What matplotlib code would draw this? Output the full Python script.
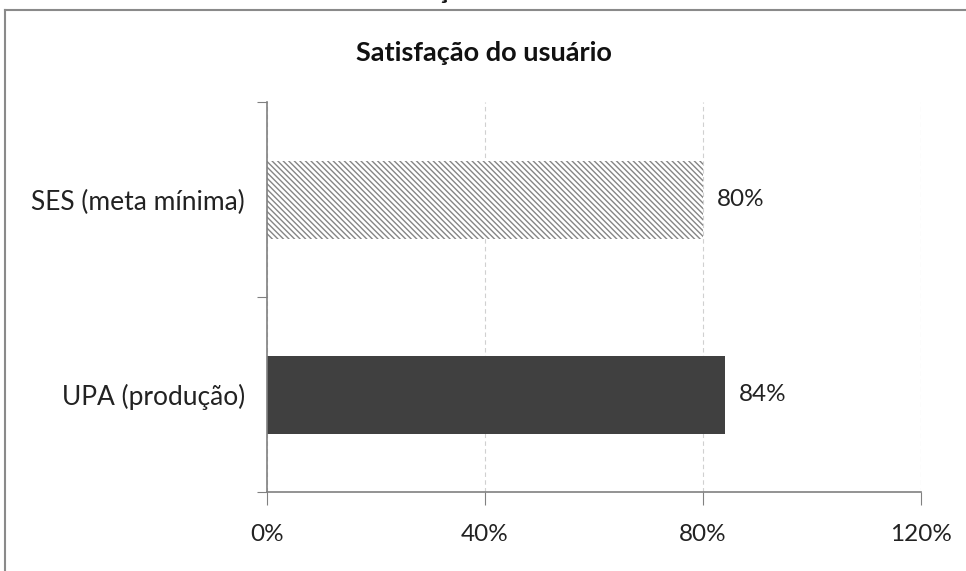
import matplotlib
matplotlib.use('Agg')
import matplotlib.pyplot as plt
from matplotlib.lines import Line2D

categories = ['UPA (produção)', 'SES (meta mínima)']
values = [84, 80]
value_labels = ['84%', '80%']
x_ticks = [0, 40, 80, 120]
x_tick_labels = ['0%', '40%', '80%', '120%']

plt.rcParams['font.family'] = ['Lato', 'DejaVu Sans']
plt.rcParams['hatch.linewidth'] = 1.0

W, H = 966, 571
fig = plt.figure(figsize=(W / 100, H / 100), dpi=100)
ax = fig.add_axes([267 / W, 1 - 492 / H, (921 - 267) / W, (492 - 102) / H])

# bars
pos = [0, 1]
ax.barh(pos[0], values[0], height=0.4, color='#404040', linewidth=0)
ax.barh(pos[1], values[1], height=0.4, color='white', edgecolor='#858585',
        hatch='\\\\\\\\\\\\', linewidth=0)

for p, v, lab in zip(pos, values, value_labels):
    ax.text(v + 2.6, p, lab, va='center', ha='left', fontsize=17.5, color='#222222')

ax.set_xlim(0, 120)
ax.set_ylim(-0.5, 1.5)
ax.set_xticks(x_ticks)
ax.set_xticklabels(x_tick_labels, fontsize=17.5, color='#222222')
ax.set_yticks([-0.5, 0.5, 1.5])
ax.set_yticklabels([])
ax.set_yticks(pos, minor=True)
ax.set_yticklabels(categories, minor=True, fontsize=19, color='#222222')
ax.tick_params(axis='y', which='minor', length=0, pad=16)
ax.tick_params(axis='y', which='major', length=7, color='#808080', direction='out')
ax.tick_params(axis='x', length=9, color='#808080', direction='out', pad=14)

for s in ['top', 'right']:
    ax.spines[s].set_visible(False)
for s in ['left', 'bottom']:
    ax.spines[s].set_color('#808080')
    ax.spines[s].set_linewidth(1.2)

ax.grid(axis='x', color='#d0d0d0', linestyle=(0, (4, 3)), linewidth=0.8)
ax.set_axisbelow(True)

fig.text(484 / W, 1 - 53 / H, 'Satisfação do usuário', ha='center', va='center',
         fontsize=19.5, fontweight='bold', color='#111111')
# cropped title of the chart above
fig.text(484 / W, 1 + 1 / H, 'Satisfação do usuário', ha='center', va='baseline',
         fontsize=19.5, fontweight='bold', color='#111111')

# outer frame
fig.add_artist(Line2D([5 / W, 1], [1 - 10 / H, 1 - 10 / H], color='#8a8a8a', linewidth=1.5))
fig.add_artist(Line2D([5 / W, 5 / W], [0, 1 - 10 / H], color='#8a8a8a', linewidth=1.5))

fig.savefig('out.png', dpi=100)
